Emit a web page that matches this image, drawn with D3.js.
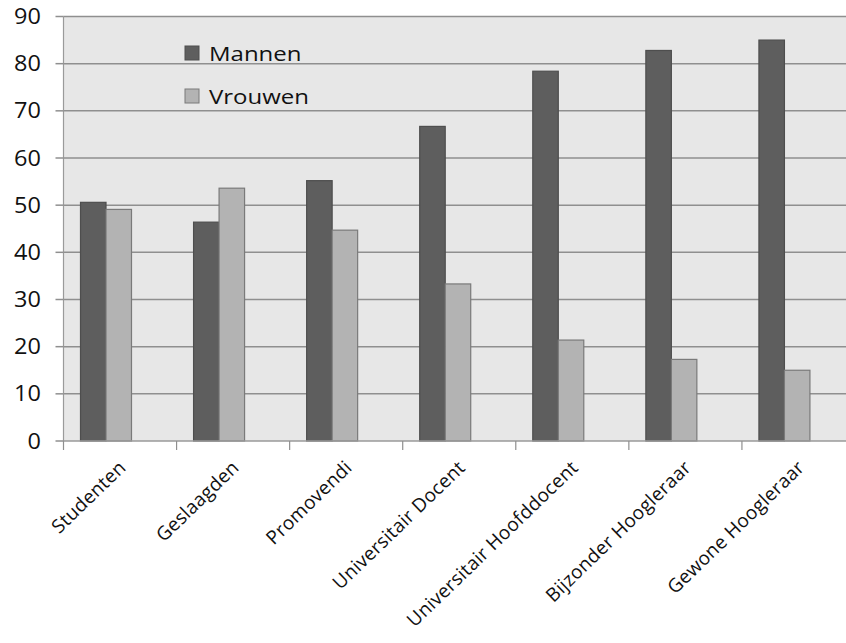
<!DOCTYPE html>
<html>
<head>
<meta charset="utf-8">
<script src="https://cdn.jsdelivr.net/npm/d3@7"></script>
<style>
  html, body { margin: 0; padding: 0; background: #fff; }
  svg { display: block; font-family: 'Open Sans', sans-serif; }
</style>
</head>
<body>
<div id="chart"></div>
<script>
// data (percentages)
var categories = ["Studenten", "Geslaagden", "Promovendi", "Universitair Docent",
                  "Universitair Hoofddocent", "Bijzonder Hoogleraar", "Gewone Hoogleraar"];
var series = ["Mannen", "Vrouwen"];
var mannen = [50.6, 46.4, 55.2, 66.7, 78.4, 82.8, 85.0];
var vrouwen = [49.1, 53.6, 44.7, 33.3, 21.4, 17.3, 15.0];
var yTicks = [0, 10, 20, 30, 40, 50, 60, 70, 80, 90];

var width = 846, height = 643;
var margin = { left: 63.5, right: 855, top: 16.5, bottom: 441 };

var colors = { Mannen: "#5e5e5e", Vrouwen: "#b3b3b3" };
var strokes = { Mannen: "#4e4e4e", Vrouwen: "#7a7a7a" };

var svg = d3.select("#chart").append("svg")
    .attr("width", width)
    .attr("height", height);

var x = d3.scaleBand().domain(categories).range([margin.left, margin.right]);
var inner = d3.scaleBand().domain(series).range([17, 68]);
var y = d3.scaleLinear().domain([0, 90]).range([margin.bottom, margin.top]);

svg.append("rect")
    .attr("x", margin.left).attr("y", margin.top)
    .attr("width", margin.right - margin.left).attr("height", margin.bottom - margin.top)
    .attr("fill", "#e7e7e7");

// grid lines
svg.append("g").selectAll("line").data(yTicks.slice(1)).join("line")
    .attr("x1", margin.left).attr("x2", margin.right)
    .attr("y1", d => y(d)).attr("y2", d => y(d))
    .attr("stroke", "#8f8f8f").attr("stroke-width", 1.5);

// y axis
svg.append("line")
    .attr("x1", margin.left).attr("x2", margin.left)
    .attr("y1", margin.top).attr("y2", margin.bottom)
    .attr("stroke", "#9a9a9a").attr("stroke-width", 1.2);
svg.append("g").selectAll("line").data(yTicks).join("line")
    .attr("x1", margin.left - 8).attr("x2", margin.left)
    .attr("y1", d => y(d)).attr("y2", d => y(d))
    .attr("stroke", "#8f8f8f").attr("stroke-width", 1.5);
svg.append("g").selectAll("text").data(yTicks).join("text")
    .attr("transform", d => "translate(41," + y(d) + ") scale(1.12,1)")
    .attr("text-anchor", "end")
    .attr("dy", "0.36em")
    .attr("font-size", 21)
    .attr("fill", "#111")
    .text(d => d);

// bars
var rows = categories.map((c, i) => ({ cat: c, Mannen: mannen[i], Vrouwen: vrouwen[i] }));
var groups = svg.append("g").selectAll("g").data(rows).join("g")
    .attr("transform", d => "translate(" + x(d.cat) + ",0)");
groups.selectAll("rect").data(d => series.map(s => ({ s: s, v: d[s] }))).join("rect")
    .attr("x", d => inner(d.s))
    .attr("width", inner.bandwidth())
    .attr("y", d => y(d.v))
    .attr("height", d => y(0) - y(d.v))
    .attr("fill", d => colors[d.s])
    .attr("stroke", d => strokes[d.s])
    .attr("stroke-width", 1.2);

// x axis
svg.append("line")
    .attr("x1", margin.left).attr("x2", margin.right)
    .attr("y1", margin.bottom).attr("y2", margin.bottom)
    .attr("stroke", "#9a9a9a").attr("stroke-width", 1.5);
svg.append("g").selectAll("line").data(categories).join("line")
    .attr("x1", d => x(d)).attr("x2", d => x(d))
    .attr("y1", margin.bottom).attr("y2", margin.bottom + 9)
    .attr("stroke", "#8f8f8f").attr("stroke-width", 1.2);
svg.append("g").selectAll("text").data(categories).join("text")
    .attr("transform", d => "translate(" + (x(d) + x.bandwidth() / 2 + 7) + "," + (margin.bottom + 28) +
        ") rotate(-44)")
    .attr("text-anchor", "end")
    .attr("font-size", 19)
    .attr("letter-spacing", 0.25)
    .attr("fill", "#111")
    .text(d => d);

// legend
var legend = svg.append("g").selectAll("g").data(series).join("g")
    .attr("transform", (d, i) => "translate(185," + (46 + i * 43) + ")");
legend.append("rect")
    .attr("width", 14).attr("height", 14)
    .attr("fill", d => colors[d])
    .attr("stroke", d => strokes[d]);
legend.append("text")
    .attr("transform", "translate(24,15) scale(1.2,1)")
    .attr("font-size", 20)
    .attr("fill", "#111")
    .text(d => d);
</script>
</body>
</html>
